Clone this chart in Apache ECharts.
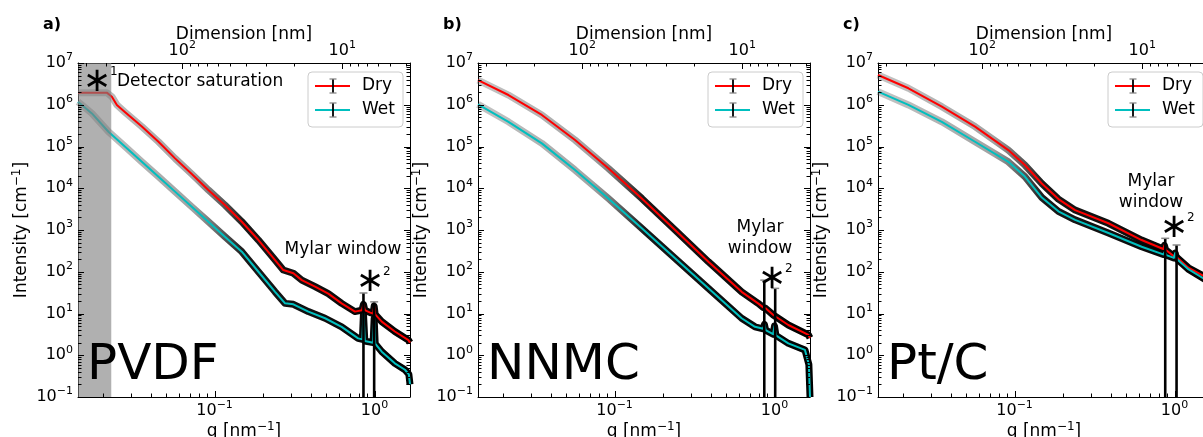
<!DOCTYPE html>
<html>
<head>
<meta charset="utf-8">
<script src="https://cdn.jsdelivr.net/npm/echarts@6/dist/echarts.min.js"></script>
<style>
  html, body { margin: 0; background: #fff; }
  #main { width: 1203px; height: 437px; }
</style>
</head>
<body>
<div id="main"></div>
<script>
// q [nm^-1] / intensity [cm^-1]
// a) PVDF
const qDryA = [0.0140, 0.0212, 0.0228, 0.0245, 0.0276, 0.0351, 0.0446, 0.0566, 0.0720, 0.0914, 0.116, 0.148, 0.188, 0.239, 0.269, 0.311, 0.351, 0.425, 0.514, 0.623, 0.755, 0.835, 0.853, 0.87, 0.94, 0.98, 0.995, 1.01, 1.11, 1.34, 1.63, 1.667]
const iDryA = [1.95e6, 1.95e6, 1.56e6, 9.9e5, 6.6e5, 3.0e5, 1.30e5, 5.2e4, 2.19e4, 9.1e3, 3.97e3, 1.58e3, 575, 191, 110, 92, 63, 44, 30, 17.5, 11.1, 12, 16.6, 12, 10.5, 10, 15, 9.5, 6.4, 3.7, 2.3, 2.0]
const qWetA = [0.0140, 0.0171, 0.0217, 0.0276, 0.0351, 0.0446, 0.0566, 0.0720, 0.0914, 0.116, 0.148, 0.188, 0.239, 0.276, 0.311, 0.386, 0.491, 0.623, 0.79, 0.84, 0.853, 0.87, 0.98, 0.995, 1.01, 1.11, 1.34, 1.55, 1.64, 1.667]
const iWetA = [1.18e6, 6.2e5, 2.26e5, 9.9e4, 4.3e4, 1.89e4, 8.3e3, 3.6e3, 1.58e3, 692, 302, 100, 33, 17.5, 16.6, 11.1, 7.7, 4.8, 2.54, 2.4, 10, 2.2, 2.0, 7.6, 1.9, 1.22, 0.64, 0.45, 0.35, 0.2]
const spikeQA = [0.853, 0.995]
const spikeTopA = [31, 19]
const saturationQ = [0.014, 0.0226]

// b) NNMC
const qDryB = [0.0140, 0.0217, 0.0351, 0.0566, 0.0914, 0.148, 0.239, 0.386, 0.623, 0.79, 0.85, 0.865, 0.88, 0.983, 1.22, 1.63, 1.667]
const iDryB = [3.9e6, 1.71e6, 5.7e5, 1.43e5, 3.0e4, 5.7e3, 1.0e3, 174, 33, 17.5, 14, 14.5, 13.3, 9.2, 5.3, 3.06, 2.6]
const qWetB = [0.0140, 0.0217, 0.0351, 0.0566, 0.0914, 0.148, 0.239, 0.386, 0.623, 0.755, 0.85, 0.865, 0.88, 0.98, 1.0, 1.02, 1.22, 1.55, 1.64, 1.667]
const iWetB = [1.02e6, 3.9e5, 1.19e5, 2.73e4, 5.7e3, 1.1e3, 210, 40, 7.7, 4.8, 4.3, 5.5, 4.0, 3.2, 5.0, 3.0, 1.93, 1.34, 0.6, 0.1]
const spikeQB = [0.863, 1.01]
const spikeTopB = [63, 40]

// c) Pt/C
const qDryC = [0.0140, 0.0217, 0.0351, 0.0566, 0.0914, 0.116, 0.148, 0.188, 0.239, 0.386, 0.623, 0.85, 0.865, 0.88, 0.983, 1.0, 1.02, 1.22, 1.55, 1.667]
const iDryC = [5.16e6, 2.48e6, 9.0e5, 3.0e5, 8.2e4, 3.6e4, 1.3e4, 5.5e3, 3.0e3, 1.45e3, 575, 350, 430, 335, 240, 260, 232, 125, 76, 62]
const qWetC = [0.0140, 0.0217, 0.0351, 0.0566, 0.0914, 0.116, 0.148, 0.188, 0.239, 0.386, 0.623, 0.85, 0.87, 0.89, 0.99, 1.01, 1.03, 1.22, 1.55, 1.667]
const iWetC = [2.06e6, 9.9e5, 3.9e5, 1.3e5, 4.3e4, 1.9e4, 6.0e3, 2.8e3, 1.75e3, 850, 398, 260, 300, 250, 215, 280, 205, 115, 66, 56]
const spikeQC = [0.875, 1.03]
const spikeTopC = [632, 437]

// axis ranges and tick labels
const Q_MIN = 0.014
const Q_MAX = 1.667
const I_MIN = 0.1
const I_MAX = 1e7
const qMajor = [0.1, 1]
const dimMajor = [10, 100]
const iMajor = [0.1, 1, 10, 100, 1e3, 1e4, 1e5, 1e6, 1e7]
const panelNames = ['PVDF', 'NNMC', 'Pt/C']
const panelTags = ['a)', 'b)', 'c)']

const FONT = 'DejaVu Sans'
const SPIKE_LOW = 0.01 // error bar goes below the axis
const D_MIN = 2 * Math.PI / Q_MAX
const D_MAX = 2 * Math.PI / Q_MIN
const MAJOR_LEN = 6
const MINOR_LEN = 3.5

// 1..9 x 10^n tick positions inside a range
function allTicks (lo, hi) {
  let out = []
  for (let e = -3; e <= 7; e++) {
    for (let k = 1; k <= 9; k++) {
      let v = k * Math.pow(10, e)
      if (v >= lo * 0.999 && v <= hi * 1.001) out.push(v)
    }
  }
  return out
}
function tickLen (v) {
  let l = Math.log10(v)
  return Math.abs(l - Math.round(l)) < 1e-6 ? MAJOR_LEN : MINOR_LEN
}
const qTicks = allTicks(Q_MIN, Q_MAX)
const dimTicks = allTicks(D_MIN, D_MAX)
const iTicks = allTicks(I_MIN, I_MAX)

function decadeLabel (v) {
  let e = Math.round(Math.log10(v))
  return '10{s|' + String(e).replace('-', '\u2212') + '}'
}

const labelStyle = {
  color: '#000',
  fontFamily: FONT,
  fontSize: 16,
  rich: { s: { fontFamily: FONT, fontSize: 11, color: '#000', padding: [0, 0, 11, 0] } }
}
const supRich = { s: { fontFamily: FONT, fontSize: 12, fill: '#000', padding: [0, 0, 10, 0] } }
const frameLine = { show: true, lineStyle: { color: '#000', width: 1 } }

function zip (xs, ys) {
  return xs.map((x, k) => [x, ys[k]])
}

const panels = [
  { qDry: qDryA, iDry: iDryA, qWet: qWetA, iWet: iWetA, spikeQ: spikeQA, spikeTop: spikeTopA },
  { qDry: qDryB, iDry: iDryB, qWet: qWetB, iWet: iWetB, spikeQ: spikeQB, spikeTop: spikeTopB },
  { qDry: qDryC, iDry: iDryC, qWet: qWetC, iWet: iWetC, spikeQ: spikeQC, spikeTop: spikeTopC }
]

// 所有刻度线画在一个 group 里，位置用 api.coord 算
function tickLine (x1, y1, x2, y2) {
  return { type: 'line', shape: { x1: x1, y1: y1, x2: x2, y2: y2 }, style: { stroke: '#000', lineWidth: 1 } }
}
function renderTicks (params, api) {
  let children = []
  qTicks.forEach(function (v) {
    let p = api.coord([v, I_MIN])
    let x = Math.round(p[0]) + 0.5
    children.push(tickLine(x, p[1], x, p[1] - tickLen(v)))
  })
  dimTicks.forEach(function (d) {
    let p = api.coord([2 * Math.PI / d, I_MAX])
    let x = Math.round(p[0]) + 0.5
    children.push(tickLine(x, p[1], x, p[1] + tickLen(d)))
  })
  iTicks.forEach(function (v) {
    let l = api.coord([Q_MIN, v])
    let r = api.coord([Q_MAX, v])
    let y = Math.round(l[1]) + 0.5
    let len = tickLen(v)
    children.push(tickLine(l[0], y, l[0] + len, y))
    children.push(tickLine(r[0], y, r[0] - len, y))
  })
  return { type: 'group', children: children }
}

// 误差棒（黑色竖线 + 灰色帽）
function renderBar (params, api) {
  let top = api.coord([api.value(0), api.value(2)])
  let bot = api.coord([api.value(0), api.value(1)])
  return {
    type: 'group',
    children: [
      { type: 'line', shape: { x1: top[0], y1: top[1], x2: bot[0], y2: bot[1] }, style: { stroke: '#000', lineWidth: 2.6 } },
      { type: 'line', shape: { x1: top[0] - 4, y1: top[1], x2: top[0] + 4, y2: top[1] }, style: { stroke: '#888', lineWidth: 1.5 } }
    ]
  }
}

function haloColor () {
  return {
    type: 'linear', x: 0, y: 0, x2: 1, y2: 0,
    colorStops: [
      { offset: 0, color: 'rgba(90,90,90,0.35)' },
      { offset: 0.35, color: 'rgba(70,70,70,0.5)' },
      { offset: 0.5, color: 'rgba(0,0,0,0.9)' },
      { offset: 1, color: '#000' }
    ]
  }
}

let grids = []
let xAxes = []
let yAxes = []
let series = []
let graphics = []

panels.forEach(function (p, i) {
  let dx = 400 * i
  grids.push({ left: 78 + dx, top: 63, width: 332, height: 334, outerBoundsMode: 'none' })
  let xi = xAxes.length
  let yi = yAxes.length
  let noTick = { show: false }
  let noSplit = { show: false }

  xAxes.push({
    gridIndex: i, type: 'log', min: Q_MIN, max: Q_MAX, position: 'bottom',
    axisLine: frameLine, axisTick: noTick, splitLine: noSplit,
    axisLabel: { customValues: qMajor, formatter: decadeLabel, margin: 3, ...labelStyle }
  })
  // top dimension axis, d = 2π/q
  xAxes.push({
    gridIndex: i, type: 'log', min: D_MIN, max: D_MAX, inverse: true, position: 'top',
    axisLine: frameLine, axisTick: noTick, splitLine: noSplit,
    axisLabel: { customValues: dimMajor, formatter: decadeLabel, margin: 1, ...labelStyle }
  })
  yAxes.push({
    gridIndex: i, type: 'log', min: I_MIN, max: I_MAX, position: 'left',
    axisLine: frameLine, axisTick: noTick, splitLine: noSplit,
    axisLabel: { customValues: iMajor, formatter: decadeLabel, margin: 5, ...labelStyle }
  })
  yAxes.push({
    gridIndex: i, type: 'log', min: I_MIN, max: I_MAX, position: 'right',
    axisLine: frameLine, axisTick: noTick, splitLine: noSplit, axisLabel: { show: false }
  })

  let dry = zip(p.qDry, p.iDry)
  let wet = zip(p.qWet, p.iWet)
  let common = { type: 'line', xAxisIndex: xi, yAxisIndex: yi, showSymbol: false, silent: true, animation: false }
  // 误差棒的晕（灰/黑）
  series.push({ ...common, data: dry, z: 1, lineStyle: { width: 7, color: haloColor(), join: 'round' } })
  series.push({ ...common, data: wet, z: 1, lineStyle: { width: 7, color: haloColor(), join: 'round' } })
  series.push({ ...common, name: 'Dry', data: dry, z: 3, lineStyle: { width: 2, color: '#ff0000', join: 'round' } })
  series.push({ ...common, name: 'Wet', data: wet, z: 3, lineStyle: { width: 2, color: '#00bfbf', join: 'round' } })
  // Mylar 窗口处的大误差棒
  series.push({
    type: 'custom', xAxisIndex: xi, yAxisIndex: yi, clip: true, silent: true, z: 4,
    data: p.spikeQ.map((q, k) => [q, SPIKE_LOW, p.spikeTop[k]]),
    renderItem: renderBar
  })
  // 坐标轴刻度（主/次）
  series.push({
    type: 'custom', xAxisIndex: xi, yAxisIndex: yi, clip: false, silent: true, z: 8,
    data: [[1, 1]], renderItem: renderTicks
  })

  // axis titles
  let g = []
  g.push({ type: 'text', z: 100, style: { text: 'Dimension [nm]', x: 244 + dx, y: 35, align: 'center', verticalAlign: 'middle', fontSize: 17, fontFamily: FONT, fill: '#000' } })
  g.push({ type: 'text', z: 100, style: { text: 'q [nm{s|\u22121}]', x: 244 + dx, y: 432, align: 'center', verticalAlign: 'middle', fontSize: 17, fontFamily: FONT, fill: '#000', rich: supRich } })
  g.push({ type: 'text', z: 100, x: 22 + dx, y: 230, rotation: Math.PI / 2, style: { text: 'Intensity [cm{s|\u22121}]', x: 0, y: 0, align: 'center', verticalAlign: 'middle', fontSize: 17, fontFamily: FONT, fill: '#000', rich: supRich } })

  // legend
  g.push({ type: 'rect', z: 100, shape: { x: 308 + dx, y: 72, width: 95, height: 55, r: 4 }, style: { fill: 'rgba(255,255,255,0.85)', stroke: '#cccccc', lineWidth: 1 } })
  ;[['Dry', '#ff0000', 86], ['Wet', '#00bfbf', 110]].forEach(function (e) {
    let y = e[2]
    g.push({ type: 'line', z: 101, shape: { x1: 315 + dx, y1: y, x2: 350 + dx, y2: y }, style: { stroke: e[1], lineWidth: 2 } })
    g.push({ type: 'line', z: 102, shape: { x1: 333 + dx, y1: y - 7, x2: 333 + dx, y2: y + 7 }, style: { stroke: '#000', lineWidth: 1.8 } })
    g.push({ type: 'line', z: 102, shape: { x1: 329.5 + dx, y1: y - 7, x2: 336.5 + dx, y2: y - 7 }, style: { stroke: '#888', lineWidth: 1.3 } })
    g.push({ type: 'line', z: 102, shape: { x1: 329.5 + dx, y1: y + 7, x2: 336.5 + dx, y2: y + 7 }, style: { stroke: '#888', lineWidth: 1.3 } })
    g.push({ type: 'text', z: 102, style: { text: e[0], x: 362 + dx, y: y, verticalAlign: 'middle', fontSize: 17, fontFamily: FONT, fill: '#000' } })
  })
  // panel tag and big sample name
  g.push({ type: 'text', z: 100, style: { text: panelTags[i], x: 43 + dx, y: 25, verticalAlign: 'middle', fontSize: 16, fontWeight: 'bold', fontFamily: FONT, fill: '#000' } })
  g.push({ type: 'text', z: 100, style: { text: panelNames[i], x: 87 + dx, y: 366, verticalAlign: 'middle', fontSize: 50, fontFamily: FONT, fill: '#000' } })
  graphics = graphics.concat(g)
})

// 探测器饱和区域（灰色）
series.push({
  type: 'custom', xAxisIndex: 0, yAxisIndex: 0, clip: true, silent: true, z: 6,
  data: [[saturationQ[0], saturationQ[1]]],
  renderItem: function (params, api) {
    let p0 = api.coord([api.value(0), I_MAX])
    let p1 = api.coord([api.value(1), I_MIN])
    return { type: 'rect', shape: { x: p0[0], y: p0[1], width: p1[0] - p0[0], height: p1[1] - p0[1] }, style: { fill: 'rgba(128,128,128,0.62)' } }
  }
})

// annotations
function star (x, y, sup) {
  graphics.push({ type: 'text', z: 110, style: { text: '\u2217', x: x, y: y, align: 'center', verticalAlign: 'middle', fontSize: 34, fontFamily: FONT, fill: '#000' } })
  graphics.push({ type: 'text', z: 110, style: { text: sup, x: x + 13, y: y - 10, align: 'left', verticalAlign: 'middle', fontSize: 12, fontFamily: FONT, fill: '#000' } })
}
function note (text, x, y) {
  graphics.push({ type: 'text', z: 110, style: { text: text, x: x, y: y, align: 'center', verticalAlign: 'middle', lineHeight: 21, fontSize: 17, fontFamily: FONT, fill: '#000' } })
}
star(97, 82, '1')
graphics.push({ type: 'text', z: 110, style: { text: 'Detector saturation', x: 117, y: 82, verticalAlign: 'middle', fontSize: 17, fontFamily: FONT, fill: '#000' } })
note('Mylar window', 343, 250)
star(370, 282, '2')
note('Mylar\nwindow', 760, 238)
star(772, 279, '2')
note('Mylar\nwindow', 1151, 192)
star(1174, 228, '2')

let mychart = echarts.init(document.getElementById('main'))
mychart.setOption({
  animation: false,
  backgroundColor: '#fff',
  grid: grids,
  xAxis: xAxes,
  yAxis: yAxes,
  series: series,
  graphic: graphics
})
</script>
</body>
</html>
